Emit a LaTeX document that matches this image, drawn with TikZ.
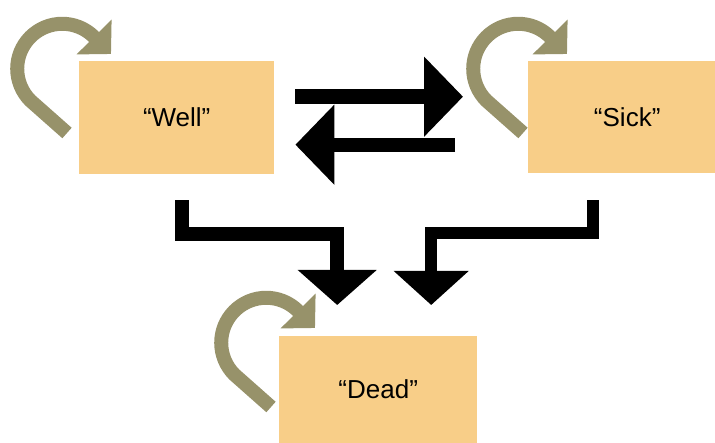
\documentclass[tikz,border=0pt]{standalone}
\usepackage{fontspec}
\setmainfont{Liberation Sans}
\usetikzlibrary{arrows.meta}
\definecolor{boxfill}{RGB}{248,206,136}
\definecolor{loopcol}{RGB}{151,146,106}
\begin{document}
\begin{tikzpicture}[x=1pt,y=-1pt,
  state/.style={fill=boxfill, draw=none, anchor=north west, inner sep=0pt,
    minimum width=198, font=\fontsize{26}{30}\selectfont},
  selfloop/.style={draw=loopcol, line width=14pt, line cap=butt, line join=round,
    -{Triangle[length=24pt,width=48pt]}},
  flow/.style={draw=black, line width=15pt, line cap=butt, line join=miter,
    -{Triangle[length=39pt,width=78pt]}},
  drop/.style={draw=black, line width=14pt, line cap=butt, line join=miter,
    -{Triangle[length=35pt,width=77pt]}}]
\path[use as bounding box, clip] (0,0) rectangle (715,443);

% states
\node[state, minimum width=195, minimum height=113] (well) at (79,61) {“Well”};
\node[state, minimum height=112] (sick) at (528,61) {“Sick”};
\node[state, minimum height=107] (dead) at (279,336) {“Dead”};

% self-loop tips
\coordinate (wt) at ([shift={(32,-7)}]well.north west);
\coordinate (st) at ([shift={(39,-7)}]sick.north west);
\coordinate (dt) at ([shift={(36,-8)}]dead.north west);

\draw[selfloop] ([shift={(-44,79)}]wt) -- ([shift={(-80.6,46.6)}]wt)
  arc[start angle=135, end angle=315, radius=45] -- (wt);
\draw[selfloop] ([shift={(-44,79)}]st) -- ([shift={(-80.6,46.6)}]st)
  arc[start angle=135, end angle=315, radius=45] -- (st);
\draw[selfloop] ([shift={(-44,79)}]dt) -- ([shift={(-80.6,46.6)}]dt)
  arc[start angle=135, end angle=315, radius=45] -- (dt);

% transitions between well and sick
\draw[flow] ([shift={(21,-21)}]well.east) -- ([shift={(-65,-20.5)}]sick.west);
\draw[flow, line width=14pt] ([shift={(-73,27.5)}]sick.west) -- ([shift={(21,27)}]well.east);

% transitions to dead
\draw[drop] ([shift={(5.5,26)}]well.south) -- ++(0,34) -| ([shift={(-41,-31)}]dead.north);
\draw[drop, line width=12pt, -{Triangle[length=34pt,width=73pt]}]
  ([shift={(-34,27)}]sick.south) -- ++(0,33) -| ([shift={(53,-31)}]dead.north);
\end{tikzpicture}
\end{document}
